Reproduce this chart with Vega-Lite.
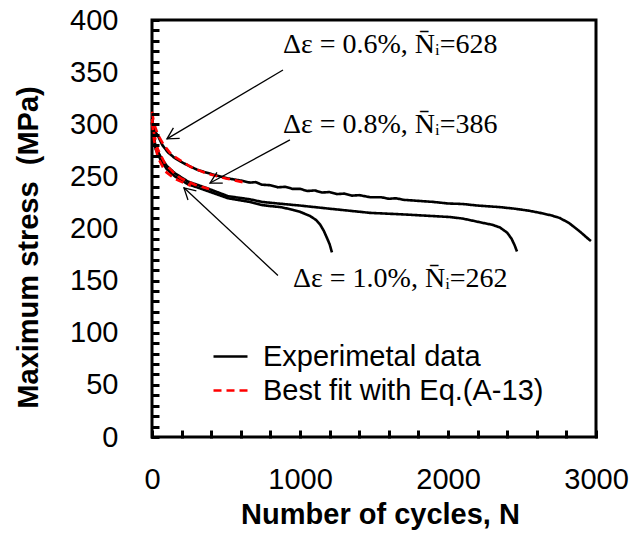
{
  "$schema": "https://vega.github.io/schema/vega-lite/v6.json",
  "width": 444,
  "height": 417,
  "autosize": {"type": "none"},
  "padding": {"left": 152, "top": 20, "right": 36, "bottom": 96},
  "config": {
    "view": {"stroke": "black", "strokeWidth": 3},
    "font": "Liberation Sans"
  },
  "datasets": {
    "curves": [
      {"series": "exp06", "kind": "Experimetal data", "N": 0, "S": 305},
      {"series": "exp06", "kind": "Experimetal data", "N": 10, "S": 297},
      {"series": "exp06", "kind": "Experimetal data", "N": 20, "S": 293},
      {"series": "exp06", "kind": "Experimetal data", "N": 40, "S": 289},
      {"series": "exp06", "kind": "Experimetal data", "N": 70, "S": 280},
      {"series": "exp06", "kind": "Experimetal data", "N": 108, "S": 273},
      {"series": "exp06", "kind": "Experimetal data", "N": 150, "S": 268},
      {"series": "exp06", "kind": "Experimetal data", "N": 196, "S": 264},
      {"series": "exp06", "kind": "Experimetal data", "N": 250, "S": 260},
      {"series": "exp06", "kind": "Experimetal data", "N": 311, "S": 256},
      {"series": "exp06", "kind": "Experimetal data", "N": 432, "S": 251},
      {"series": "exp06", "kind": "Experimetal data", "N": 514, "S": 248},
      {"series": "exp06", "kind": "Experimetal data", "N": 600, "S": 246},
      {"series": "exp06", "kind": "Experimetal data", "N": 662, "S": 244},
      {"series": "exp06", "kind": "Experimetal data", "N": 700, "S": 244.5},
      {"series": "exp06", "kind": "Experimetal data", "N": 743, "S": 242},
      {"series": "exp06", "kind": "Experimetal data", "N": 800, "S": 241.5},
      {"series": "exp06", "kind": "Experimetal data", "N": 850, "S": 239.5},
      {"series": "exp06", "kind": "Experimetal data", "N": 900, "S": 240},
      {"series": "exp06", "kind": "Experimetal data", "N": 950, "S": 238},
      {"series": "exp06", "kind": "Experimetal data", "N": 1000, "S": 238},
      {"series": "exp06", "kind": "Experimetal data", "N": 1050, "S": 236},
      {"series": "exp06", "kind": "Experimetal data", "N": 1100, "S": 236.5},
      {"series": "exp06", "kind": "Experimetal data", "N": 1150, "S": 234.5},
      {"series": "exp06", "kind": "Experimetal data", "N": 1200, "S": 235},
      {"series": "exp06", "kind": "Experimetal data", "N": 1250, "S": 233},
      {"series": "exp06", "kind": "Experimetal data", "N": 1300, "S": 233.5},
      {"series": "exp06", "kind": "Experimetal data", "N": 1350, "S": 231.5},
      {"series": "exp06", "kind": "Experimetal data", "N": 1400, "S": 232},
      {"series": "exp06", "kind": "Experimetal data", "N": 1473, "S": 230},
      {"series": "exp06", "kind": "Experimetal data", "N": 1550, "S": 230},
      {"series": "exp06", "kind": "Experimetal data", "N": 1600, "S": 228.5},
      {"series": "exp06", "kind": "Experimetal data", "N": 1650, "S": 229},
      {"series": "exp06", "kind": "Experimetal data", "N": 1700, "S": 227.5},
      {"series": "exp06", "kind": "Experimetal data", "N": 1800, "S": 226.5},
      {"series": "exp06", "kind": "Experimetal data", "N": 1900, "S": 225.5},
      {"series": "exp06", "kind": "Experimetal data", "N": 2000, "S": 224},
      {"series": "exp06", "kind": "Experimetal data", "N": 2100, "S": 223.5},
      {"series": "exp06", "kind": "Experimetal data", "N": 2200, "S": 222},
      {"series": "exp06", "kind": "Experimetal data", "N": 2351, "S": 220.5},
      {"series": "exp06", "kind": "Experimetal data", "N": 2450, "S": 219},
      {"series": "exp06", "kind": "Experimetal data", "N": 2550, "S": 217},
      {"series": "exp06", "kind": "Experimetal data", "N": 2622, "S": 215},
      {"series": "exp06", "kind": "Experimetal data", "N": 2700, "S": 212.5},
      {"series": "exp06", "kind": "Experimetal data", "N": 2757, "S": 210},
      {"series": "exp06", "kind": "Experimetal data", "N": 2820, "S": 205},
      {"series": "exp06", "kind": "Experimetal data", "N": 2892, "S": 197},
      {"series": "exp06", "kind": "Experimetal data", "N": 2940, "S": 191},
      {"series": "exp06", "kind": "Experimetal data", "N": 2966, "S": 188},
      {"series": "exp08", "kind": "Experimetal data", "N": 0, "S": 302},
      {"series": "exp08", "kind": "Experimetal data", "N": 10, "S": 290},
      {"series": "exp08", "kind": "Experimetal data", "N": 25, "S": 278},
      {"series": "exp08", "kind": "Experimetal data", "N": 61, "S": 268},
      {"series": "exp08", "kind": "Experimetal data", "N": 100, "S": 260},
      {"series": "exp08", "kind": "Experimetal data", "N": 155, "S": 253},
      {"series": "exp08", "kind": "Experimetal data", "N": 243, "S": 245},
      {"series": "exp08", "kind": "Experimetal data", "N": 365, "S": 239},
      {"series": "exp08", "kind": "Experimetal data", "N": 514, "S": 231},
      {"series": "exp08", "kind": "Experimetal data", "N": 662, "S": 228},
      {"series": "exp08", "kind": "Experimetal data", "N": 743, "S": 225.5},
      {"series": "exp08", "kind": "Experimetal data", "N": 850, "S": 224},
      {"series": "exp08", "kind": "Experimetal data", "N": 1000, "S": 222},
      {"series": "exp08", "kind": "Experimetal data", "N": 1200, "S": 219},
      {"series": "exp08", "kind": "Experimetal data", "N": 1473, "S": 215},
      {"series": "exp08", "kind": "Experimetal data", "N": 1700, "S": 213.5},
      {"series": "exp08", "kind": "Experimetal data", "N": 2014, "S": 211},
      {"series": "exp08", "kind": "Experimetal data", "N": 2100, "S": 209.5},
      {"series": "exp08", "kind": "Experimetal data", "N": 2216, "S": 206},
      {"series": "exp08", "kind": "Experimetal data", "N": 2300, "S": 203.5},
      {"series": "exp08", "kind": "Experimetal data", "N": 2351, "S": 201},
      {"series": "exp08", "kind": "Experimetal data", "N": 2400, "S": 196},
      {"series": "exp08", "kind": "Experimetal data", "N": 2430, "S": 190},
      {"series": "exp08", "kind": "Experimetal data", "N": 2450, "S": 184},
      {"series": "exp08", "kind": "Experimetal data", "N": 2466, "S": 178},
      {"series": "exp10", "kind": "Experimetal data", "N": 0, "S": 301},
      {"series": "exp10", "kind": "Experimetal data", "N": 10, "S": 288},
      {"series": "exp10", "kind": "Experimetal data", "N": 25, "S": 276},
      {"series": "exp10", "kind": "Experimetal data", "N": 61, "S": 265},
      {"series": "exp10", "kind": "Experimetal data", "N": 100, "S": 257},
      {"series": "exp10", "kind": "Experimetal data", "N": 155, "S": 250},
      {"series": "exp10", "kind": "Experimetal data", "N": 243, "S": 242.5},
      {"series": "exp10", "kind": "Experimetal data", "N": 365, "S": 236.5},
      {"series": "exp10", "kind": "Experimetal data", "N": 514, "S": 229},
      {"series": "exp10", "kind": "Experimetal data", "N": 662, "S": 225.5},
      {"series": "exp10", "kind": "Experimetal data", "N": 743, "S": 222.5},
      {"series": "exp10", "kind": "Experimetal data", "N": 800, "S": 221.5},
      {"series": "exp10", "kind": "Experimetal data", "N": 870, "S": 220.5},
      {"series": "exp10", "kind": "Experimetal data", "N": 950, "S": 218},
      {"series": "exp10", "kind": "Experimetal data", "N": 1000, "S": 216},
      {"series": "exp10", "kind": "Experimetal data", "N": 1068, "S": 212},
      {"series": "exp10", "kind": "Experimetal data", "N": 1110, "S": 208},
      {"series": "exp10", "kind": "Experimetal data", "N": 1135, "S": 204},
      {"series": "exp10", "kind": "Experimetal data", "N": 1160, "S": 198},
      {"series": "exp10", "kind": "Experimetal data", "N": 1182, "S": 191},
      {"series": "exp10", "kind": "Experimetal data", "N": 1200, "S": 185},
      {"series": "exp10", "kind": "Experimetal data", "N": 1216, "S": 177},
      {"series": "fit06", "kind": "Best fit with Eq.(A-13)", "N": 0, "S": 312},
      {"series": "fit06", "kind": "Best fit with Eq.(A-13)", "N": 15, "S": 300},
      {"series": "fit06", "kind": "Best fit with Eq.(A-13)", "N": 40, "S": 290},
      {"series": "fit06", "kind": "Best fit with Eq.(A-13)", "N": 80, "S": 280},
      {"series": "fit06", "kind": "Best fit with Eq.(A-13)", "N": 130, "S": 271},
      {"series": "fit06", "kind": "Best fit with Eq.(A-13)", "N": 196, "S": 265},
      {"series": "fit06", "kind": "Best fit with Eq.(A-13)", "N": 264, "S": 259},
      {"series": "fit06", "kind": "Best fit with Eq.(A-13)", "N": 365, "S": 253},
      {"series": "fit06", "kind": "Best fit with Eq.(A-13)", "N": 500, "S": 248},
      {"series": "fit06", "kind": "Best fit with Eq.(A-13)", "N": 628, "S": 244},
      {"series": "fit08", "kind": "Best fit with Eq.(A-13)", "N": 0, "S": 305},
      {"series": "fit08", "kind": "Best fit with Eq.(A-13)", "N": 15, "S": 290},
      {"series": "fit08", "kind": "Best fit with Eq.(A-13)", "N": 40, "S": 276},
      {"series": "fit08", "kind": "Best fit with Eq.(A-13)", "N": 88, "S": 262},
      {"series": "fit08", "kind": "Best fit with Eq.(A-13)", "N": 150, "S": 253},
      {"series": "fit08", "kind": "Best fit with Eq.(A-13)", "N": 196, "S": 248},
      {"series": "fit08", "kind": "Best fit with Eq.(A-13)", "N": 290, "S": 242},
      {"series": "fit08", "kind": "Best fit with Eq.(A-13)", "N": 386, "S": 238},
      {"series": "fit10", "kind": "Best fit with Eq.(A-13)", "N": 0, "S": 302},
      {"series": "fit10", "kind": "Best fit with Eq.(A-13)", "N": 15, "S": 284},
      {"series": "fit10", "kind": "Best fit with Eq.(A-13)", "N": 40, "S": 268},
      {"series": "fit10", "kind": "Best fit with Eq.(A-13)", "N": 88, "S": 255},
      {"series": "fit10", "kind": "Best fit with Eq.(A-13)", "N": 150, "S": 248},
      {"series": "fit10", "kind": "Best fit with Eq.(A-13)", "N": 196, "S": 245},
      {"series": "fit10", "kind": "Best fit with Eq.(A-13)", "N": 262, "S": 241}
    ],
    "labels": [
      {"label": "Δε = 0.6%, N̄ᵢ=628", "N": 885, "S": 368},
      {"label": "Δε = 0.8%, N̄ᵢ=386", "N": 885, "S": 291.6},
      {"label": "Δε = 1.0%, N̄ᵢ=262", "N": 953, "S": 144}
    ],
    "arrows": [
      {"id": "a1", "N": 101, "S": 286, "N0": 885, "S0": 352},
      {"id": "a2", "N": 392, "S": 243.6, "N0": 932, "S0": 285},
      {"id": "a3", "N": 216, "S": 239, "N0": 851, "S0": 155}
    ]
  },
  "encoding": {
    "x": {
      "field": "N", "type": "quantitative",
      "scale": {"domain": [0, 3000], "nice": false, "zero": false},
      "axis": {
        "title": "Number of cycles, N",
        "titleFont": "Liberation Sans", "titleFontSize": 29, "titleFontWeight": "bold", "titleColor": "black",
        "titleBaseline": "alphabetic", "titleY": 93, "titleX": 228,
        "offset": -7, "zindex": 2,
        "values": [0, 200, 400, 600, 800, 1000, 1200, 1400, 1600, 1800, 2000, 2200, 2400, 2600, 2800, 3000],
        "labelExpr": "datum.value % 1000 === 0 ? format(datum.value, 'd') : ''",
        "ticks": true, "tickSize": 8, "tickWidth": 3, "tickColor": "black", "tickOpacity": 1,
        "domain": false, "grid": false,
        "labelFont": "Liberation Sans", "labelFontSize": 29, "labelColor": "black",
        "labelPadding": 27, "labelFlush": false, "labelOverlap": false, "labelBaseline": "top"
      }
    },
    "y": {
      "field": "S", "type": "quantitative",
      "scale": {"domain": [0, 400], "nice": false, "zero": false},
      "axis": {
        "title": "Maximum stress\u00a0 (MPa)",
        "titleFont": "Liberation Sans", "titleFontSize": 29, "titleFontWeight": "bold", "titleColor": "black",
        "titleAngle": -90, "titleBaseline": "alphabetic", "titleX": -122, "titleY": 227, "titleAlign": "center",
        "offset": -7, "zindex": 2,
        "values": [0, 10, 20, 30, 40, 50, 60, 70, 80, 90, 100, 110, 120, 130, 140, 150, 160, 170, 180, 190, 200, 210, 220, 230, 240, 250, 260, 270, 280, 290, 300, 310, 320, 330, 340, 350, 360, 370, 380, 390, 400],
        "labelExpr": "datum.value % 50 === 0 ? format(datum.value, 'd') : ''",
        "ticks": true, "tickSize": 8, "tickWidth": 3, "tickColor": "black", "tickOpacity": 1,
        "domain": false, "grid": false,
        "labelFont": "Liberation Sans", "labelFontSize": 29, "labelColor": "black",
        "labelPadding": 33, "labelFlush": false, "labelOverlap": false
      }
    }
  },
  "layer": [
    {
      "data": {"name": "curves"},
      "mark": {"type": "line", "strokeWidth": 2.6},
      "encoding": {
        "detail": {"field": "series"},
        "color": {
          "field": "kind", "type": "nominal",
          "scale": {"domain": ["Experimetal data", "Best fit with Eq.(A-13)"], "range": ["black", "#ff0000"]},
          "legend": {
            "title": null, "orient": "none", "legendX": 60, "legendY": 318,
            "symbolType": "stroke", "symbolSize": 1156, "symbolStrokeWidth": 2.6,
            "labelFont": "Liberation Sans", "labelFontSize": 29, "labelColor": "black",
            "labelOffset": 14, "rowPadding": 0, "labelLimit": 400
          }
        },
        "strokeDash": {
          "field": "kind", "type": "nominal",
          "scale": {"domain": ["Experimetal data", "Best fit with Eq.(A-13)"], "range": [[1, 0], [8, 5]]},
          "legend": {
            "title": null, "orient": "none", "legendX": 60, "legendY": 318,
            "symbolType": "stroke", "symbolSize": 1156, "symbolStrokeWidth": 2.6,
            "labelFont": "Liberation Sans", "labelFontSize": 29, "labelColor": "black",
            "labelOffset": 14, "rowPadding": 0, "labelLimit": 400
          }
        }
      }
    },
    {
      "data": {"name": "arrows"},
      "mark": {"type": "rule", "color": "black", "strokeWidth": 1.3},
      "encoding": {
        "x2": {"field": "N0"},
        "y2": {"field": "S0"}
      }
    },
    {
      "data": {"name": "arrows"},
      "transform": [{"filter": "datum.id === 'a1'"}],
      "mark": {"type": "point", "shape": "M -1 -0.55 L 0 0 L -1 0.55", "filled": false, "stroke": "black", "strokeWidth": 1.3, "size": 500, "angle": 149.3, "opacity": 1},
      "encoding": {}
    },
    {
      "data": {"name": "arrows"},
      "transform": [{"filter": "datum.id === 'a2'"}],
      "mark": {"type": "point", "shape": "M -1 -0.55 L 0 0 L -1 0.55", "filled": false, "stroke": "black", "strokeWidth": 1.3, "size": 500, "angle": 151.7, "opacity": 1},
      "encoding": {}
    },
    {
      "data": {"name": "arrows"},
      "transform": [{"filter": "datum.id === 'a3'"}],
      "mark": {"type": "point", "shape": "M -1 -0.55 L 0 0 L -1 0.55", "filled": false, "stroke": "black", "strokeWidth": 1.3, "size": 500, "angle": 222.8, "opacity": 1},
      "encoding": {}
    },
    {
      "data": {"name": "labels"},
      "mark": {"type": "text", "font": "Liberation Serif", "fontSize": 28, "align": "left", "baseline": "alphabetic", "color": "black"},
      "encoding": {
        "text": {"field": "label"}
      }
    }
  ]
}
